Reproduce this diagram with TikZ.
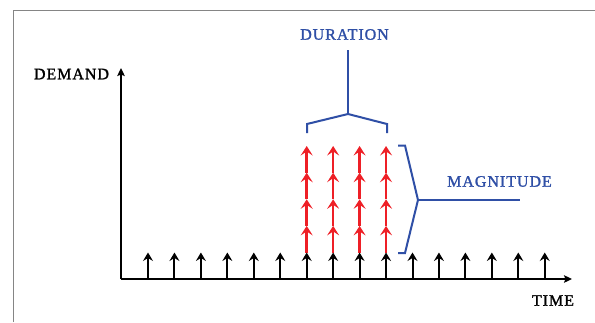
\documentclass[tikz,border=0pt]{standalone}
\usepackage{fontspec}
\setmainfont{Liberation Serif}[LetterSpace=6,FakeBold=1.4]
\usetikzlibrary{arrows.meta}
\definecolor{braceblue}{HTML}{2F4FA6}
\definecolor{pulsered}{HTML}{EE1F26}
\definecolor{framegray}{HTML}{858585}
\tikzset{
  axisline/.style={line width=2pt,-{Stealth[length=8pt,width=7.5pt,inset=1.5pt]}},
  tickarrow/.style={line width=2pt,-{Stealth[length=8.5pt,width=10pt,inset=3pt]}},
  pulsearrow/.style={pulsered,line width=2.5pt,-{Stealth[length=9.5pt,width=12pt,inset=4pt]}},
  bracket/.style={braceblue,line width=2pt,line join=miter},
  txt/.style={font=\fontsize{16}{18}\selectfont,inner sep=0pt},
  bluetxt/.style={txt,text=braceblue}
}
\begin{document}
\begin{tikzpicture}[x=1pt,y=-1pt]
  \useasboundingbox (0,0) rectangle (595,322);
  \fill[white] (0,0) rectangle (595,322);
  % outer frame
  \draw[framegray,line width=1pt] (13.5,322) -- (13.5,10) -- (595,10);

  % axes
  \coordinate (O) at (121,279);
  \coordinate (ytop) at (121,68);
  \coordinate (xend) at (572,279);
  \draw[axisline] (O) -- (ytop);
  \draw[axisline] (O) -- (xend);
  \node[txt] (demand) at (71.5,74) {DEMAND};
  \node[txt] (time) at (553,300.5) {TIME};

  % regular demand pulses along the time axis
  \foreach \i in {0,...,15} {
    \coordinate (b\i) at ({148+26.45*\i},279);
    \coordinate (t\i) at ({148+26.45*\i},252.5);
  }
  % stacked pulses inside the event window
  \foreach \i in {6,...,9} {
    \foreach \k in {0,1,2,3} {
      \coordinate (p\i-\k) at ({148+26.45*\i},{252.5-26.6*\k});
    }
    \coordinate (p\i-4) at ({148+26.45*\i},146);
    \foreach \k [evaluate=\k as \n using int(\k+1)] in {0,1,2,3}
      \draw[pulsearrow] (p\i-\k) -- (p\i-\n);
  }
  \foreach \i in {0,...,15}
    \draw[tickarrow] (b\i) -- (t\i);

  % duration bracket
  \coordinate (dl) at (307,133);
  \coordinate (dr) at (387,133);
  \coordinate (dapex) at (348,114);
  \draw[bracket] (dl) -- (307,124) -- (dapex) -- (387,124) -- (dr);
  \node[bluetxt] (duration) at (344.5,34.5) {DURATION};
  \draw[bracket] (dapex) -- (348,50);

  % magnitude bracket
  \coordinate (mt) at (398,145.5);
  \coordinate (mb) at (398,253);
  \coordinate (mapex) at (418,200);
  \draw[bracket] (mt) -- (405,145.5) -- (mapex) -- (405,253) -- (mb);
  \draw[bracket] (mapex) -- (520,200);
  \node[bluetxt] (magnitude) at (499.5,181.5) {MAGNITUDE};
\end{tikzpicture}
\end{document}
